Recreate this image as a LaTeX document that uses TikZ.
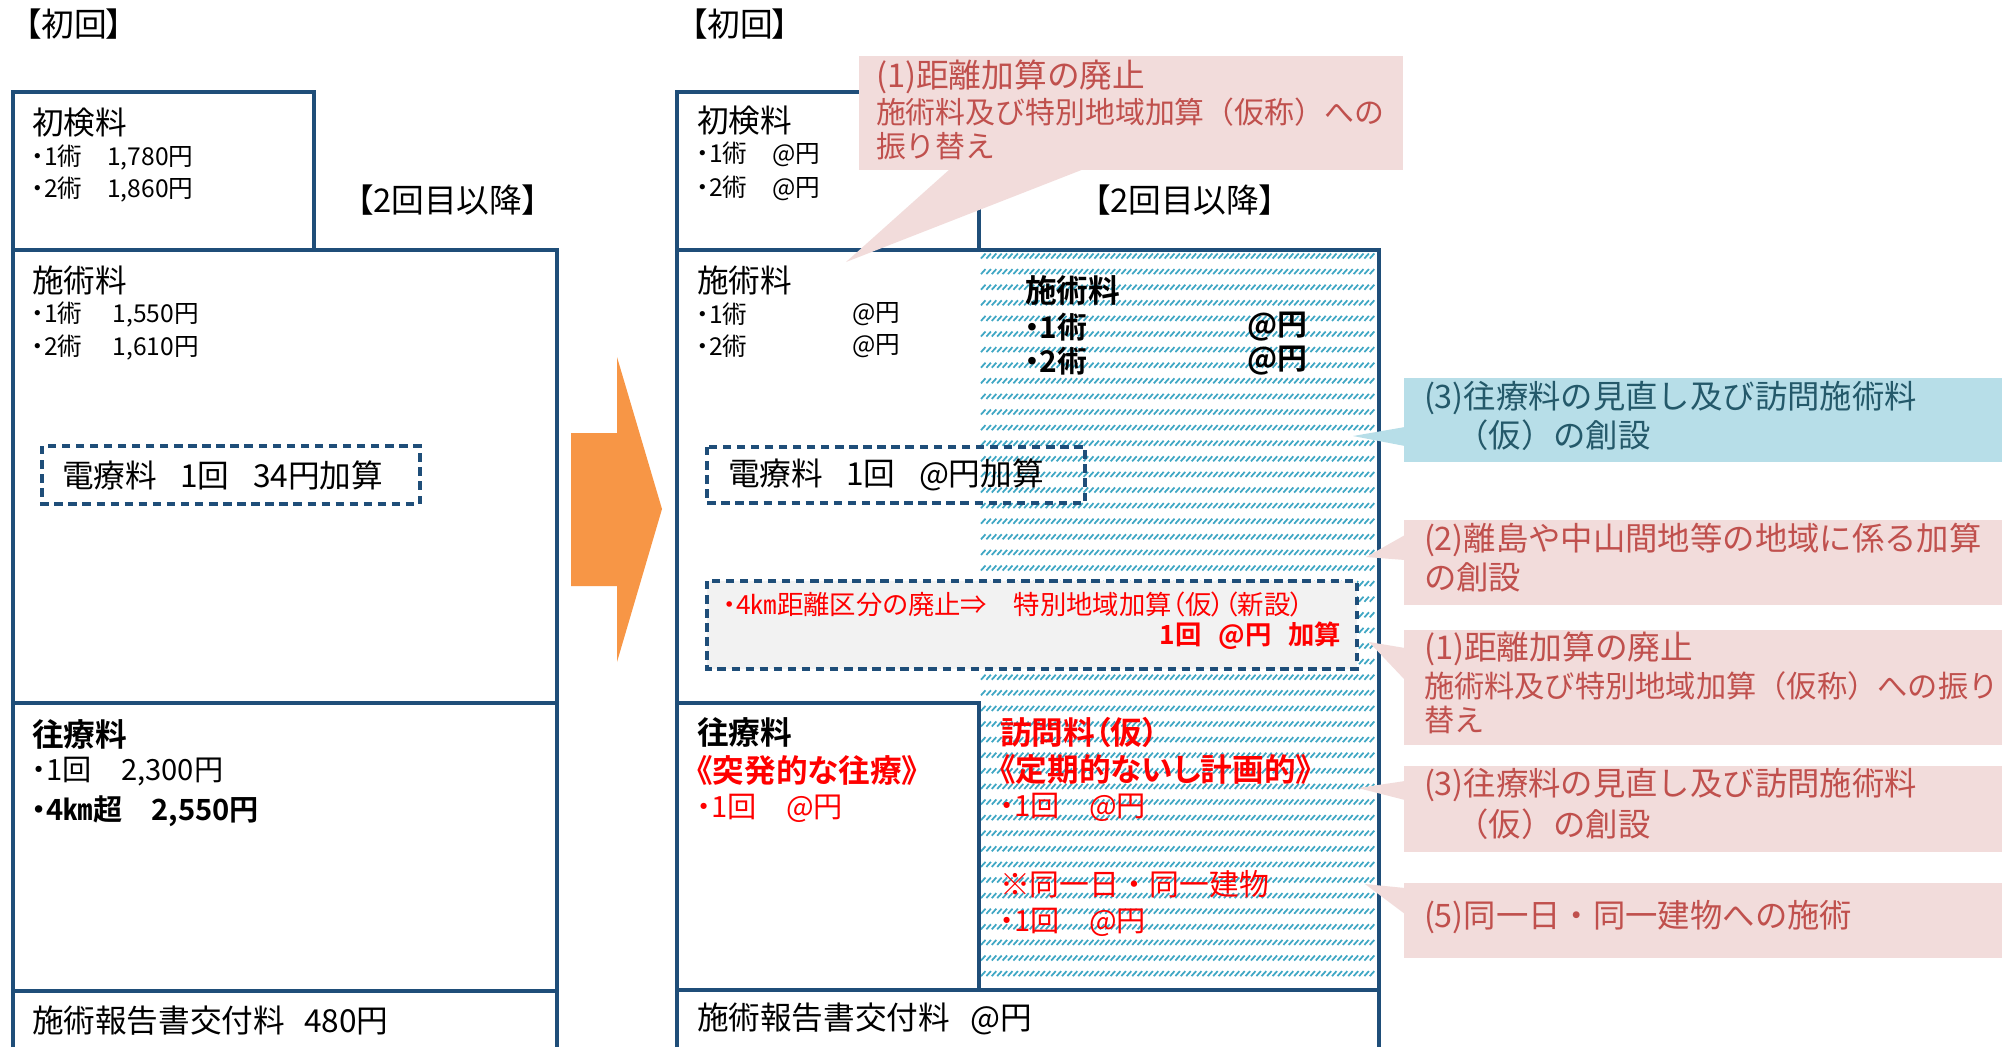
\documentclass[tikz,border=0pt]{standalone}
\usepackage{fontspec}
\setmainfont{Noto Sans CJK JP}[RawFeature={+palt},BoldFont={Noto Sans CJK JP Bold}]
\newfontfamily\cfont{Noto Sans CJK JP}
\definecolor{bordc}{HTML}{1F4E79}
\definecolor{orangec}{HTML}{F79646}
\definecolor{pinkf}{HTML}{F2DCDB}
\definecolor{pinkt}{HTML}{C0504D}
\definecolor{bluef}{HTML}{B7DEE8}
\definecolor{bluet}{HTML}{24596A}
\definecolor{hatchc}{HTML}{3FA7C4}
\definecolor{grayf}{HTML}{F2F2F2}
\definecolor{redt}{HTML}{FF0000}
\newcommand\fsz[1]{\fontsize{#1}{#1}\selectfont}
\newcommand\gp[1]{\hspace{#1em}}
\tikzset{
  box/.style={draw=bordc,line width=0.9pt},
  dbox/.style={draw=bordc,line width=0.9pt,dash pattern=on 2.4pt off 1.6pt},
  lbl/.style={anchor=west,inner sep=0pt,outer sep=0pt},
  hd/.style={lbl,font=\fsz{9pt}},
  hdb/.style={lbl,font=\fsz{9pt}\bfseries},
  itm/.style={lbl,font=\fsz{7pt}},
  itl/.style={lbl,font=\fsz{8.3pt}},
  itlb/.style={lbl,font=\fsz{8.3pt}\bfseries},
  hti/.style={lbl,font=\fsz{8.5pt}\bfseries},
  rsm/.style={lbl,font=\fsz{7.5pt},text=redt},
  ca/.style={lbl,font=\cfont\fsz{9.2pt}},
  cb/.style={lbl,font=\cfont\fsz{8.6pt}},
  hatchline/.style={draw=hatchc,line width=0.5pt},
}
\begin{document}
\begin{tikzpicture}[x=0.01cm,y=-0.01cm]
\useasboundingbox (0,0) rectangle (2002,1047);
\fill[white] (0,0) rectangle (2002,1047);

% hatched region
\foreach \r in {0,...,46} {
  \pgfmathsetmacro\yy{256+\r*15.6}
  \draw[hatchline] \foreach \c in {0,...,72} { ({981+\c*5.4},{\yy+2.5}) -- ++(4.5,-5) };
}

% left panel boxes
\draw[box] (13,92) rectangle (314,250);
\draw[box] (13,250) rectangle (557,703);
\draw[box] (13,703) rectangle (557,991);
\draw[box] (13,1047) -- (13,991) -- (557,991) -- (557,1047);
\draw[dbox] (42,446) rectangle (420,504);

% right panel boxes
\draw[box] (677,92) rectangle (979,250);
\draw[box] (677,250) rectangle (1379,990);
\draw[box] (677,703) rectangle (979,990);
\draw[box] (677,1047) -- (677,990) -- (1379,990) -- (1379,1047);
\draw[dbox] (707,447) rectangle (1085,503);
\draw[dbox,fill=grayf] (707,581) rectangle (1357,669);

% orange arrow
\fill[orangec] (571,433) -- (617,433) -- (617,357) -- (662,509) -- (617,662) -- (617,586) -- (571,586) -- cycle;

% left texts
\node[lbl,font=\fsz{9.3pt}] (l0) at (25,24) {【初回】};
\node[hd] (l1) at (32,123) {初検料};
\node[itm] (l2) at (32,157) {・1術　1,780円};
\node[itm] (l3) at (32,189) {・2術　1,860円};
\node[hd,font=\fsz{9.3pt}] (l4) at (357,200) {【2回目以降】};
\node[hd] (l5) at (32,280) {施術料};
\node[itm] (l6) at (32,314) {・1術　 1,550円};
\node[itm] (l7) at (32,347) {・2術　 1,610円};
\node[hd] (l8) at (62,475) {電療料\gp{0.74}1回\gp{0.74}34円加算};
\node[hdb] (l9) at (32,734) {往療料};
\node[itl] (l10) at (32,772) {・1回　2,300円};
\node[itlb] (l11) at (32,811) {・4㎞超　2,550円};
\node[hd] (l12) at (32,1021) {施術報告書交付料\gp{0.6}480円};

% right texts
\node[lbl,font=\fsz{9.3pt}] (r0) at (691,24) {【初回】};
\node[hd] (r1) at (697,121) {初検料};
\node[itm] (r2) at (697,154) {・1術　@円};
\node[itm] (r3) at (697,188) {・2術　@円};
\node[hd,font=\fsz{9.3pt}] (r4) at (1094,200) {【2回目以降】};
\node[hd] (r5) at (697,280) {施術料};
\node[itm] (r6) at (697,314) {・1術};
\node[itm] (r6b) at (852,314) {@円};
\node[itm] (r7) at (697,346) {・2術};
\node[itm] (r7b) at (852,346) {@円};
\node[hdb] (h1) at (1025,290) {施術料};
\node[hti] (h2) at (1025,327) {・1術};
\node[hti] (h2b) at (1247,327) {@円};
\node[hti] (h3) at (1025,361) {・2術};
\node[hti] (h3b) at (1247,361) {@円};
\node[hd] (r8) at (728,475) {電療料\gp{0.74}1回\gp{0.74}@円加算};
\node[rsm] (r9) at (723,604) {・4㎞距離区分の廃止⇒　特別地域加算（仮）（新設）};
\node[rsm,font=\fsz{7.5pt}\bfseries,anchor=east] (r10) at (1341,636) {1回\gp{0.64}@円\gp{0.64}加算};
\node[hdb] (r11) at (697,732) {往療料};
\node[hdb,text=redt] (r12) at (697,770) {《突発的な往療》};
\node[itl,text=redt] (r13) at (697,808) {・1回　@円};
\node[hdb,text=redt] (h4) at (1000,732) {訪問料（仮）};
\node[hdb,text=redt] (h5) at (1000,770) {《定期的ないし計画的》};
\node[itl,text=redt] (h6) at (1000,807) {・1回　@円};
\node[lbl,font=\cfont\fsz{8.5pt},text=redt] (h7) at (1000,884) {※同一日・同一建物};
\node[itl,text=redt] (h8) at (1000,922) {・1回　@円};
\node[hd] (r14) at (697,1019) {施術報告書交付料\gp{0.65}@円};

% callouts
\fill[pinkf] (859,56) rectangle (1403,170);
\fill[pinkf] (950,169) -- (846,262) -- (1084,169) -- cycle;
\node[ca,text=pinkt,font=\cfont\fsz{9.3pt}] (c1a) at (876,77) {(1)距離加算の廃止};
\node[cb,text=pinkt,font=\cfont\fsz{8.5pt}] (c1b) at (876,112) {施術料及び特別地域加算（仮称）への};
\node[cb,text=pinkt,font=\cfont\fsz{8.5pt}] (c1c) at (876,146) {振り替え};

\fill[bluef] (1404,378) rectangle (2002,462);
\fill[bluef] (1405,427) -- (1353,436) -- (1405,446) -- cycle;
\node[ca,text=bluet] (c2a) at (1424,398) {(3)往療料の見直し及び訪問施術料};
\node[ca,text=bluet] (c2b) at (1424,435) {　（仮）の創設};

\fill[pinkf] (1404,520) rectangle (2002,605);
\fill[pinkf] (1405,535) -- (1366,557) -- (1405,560) -- cycle;
\node[ca,text=pinkt] (c3a) at (1424,540) {(2)離島や中山間地等の地域に係る加算};
\node[ca,text=pinkt] (c3b) at (1424,577) {の創設};

\fill[pinkf] (1404,630) rectangle (2002,745);
\fill[pinkf] (1405,648) -- (1369,642) -- (1405,680) -- cycle;
\node[ca,text=pinkt,font=\cfont\fsz{9.3pt}] (c4a) at (1424,649) {(1)距離加算の廃止};
\node[cb,text=pinkt] (c4b) at (1424,686) {施術料及び特別地域加算（仮称）への振り};
\node[cb,text=pinkt] (c4c) at (1424,720) {替え};

\fill[pinkf] (1404,766) rectangle (2002,852);
\fill[pinkf] (1405,781) -- (1358,788) -- (1405,800) -- cycle;
\node[ca,text=pinkt] (c5a) at (1424,785) {(3)往療料の見直し及び訪問施術料};
\node[ca,text=pinkt] (c5b) at (1424,824) {　（仮）の創設};

\fill[pinkf] (1404,883) rectangle (2002,958);
\fill[pinkf] (1405,888) -- (1365,884) -- (1405,914) -- cycle;
\node[ca,text=pinkt] (c6a) at (1424,917) {(5)同一日・同一建物への施術};
\end{tikzpicture}
\end{document}
